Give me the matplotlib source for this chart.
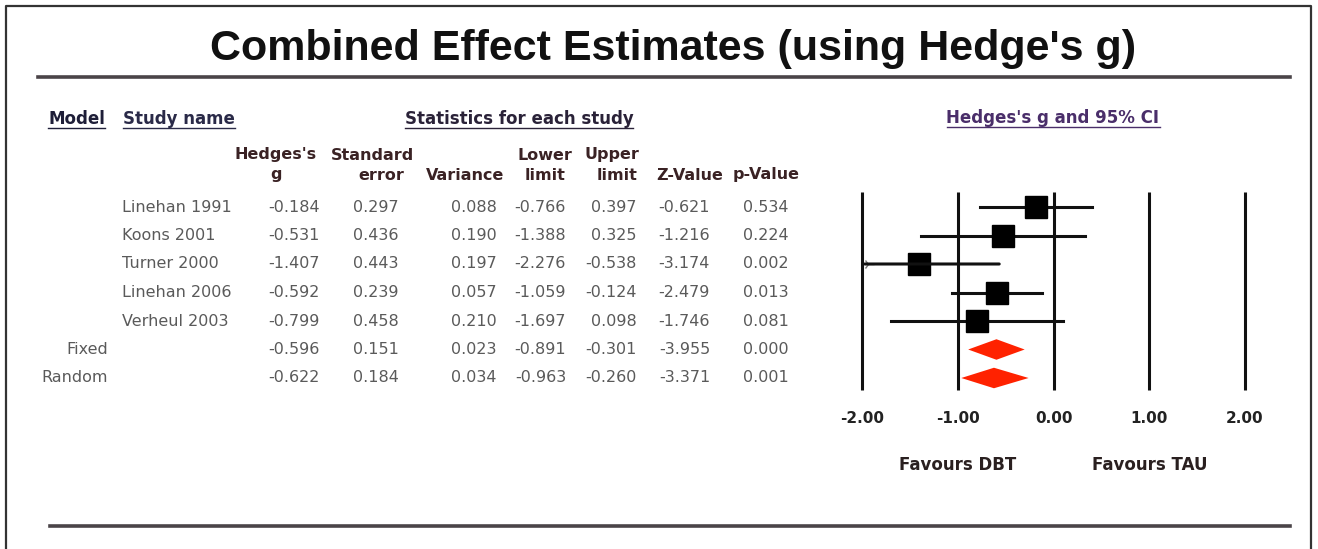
import matplotlib
matplotlib.use("Agg")
import matplotlib.pyplot as plt
from matplotlib.lines import Line2D

plt.rcParams['font.family'] = ['DejaVu Sans']

# data
studies = ["Linehan 1991", "Koons 2001", "Turner 2000", "Linehan 2006", "Verheul 2003"]
models = ["Fixed", "Random"]
hedges_g = [-0.184, -0.531, -1.407, -0.592, -0.799, -0.596, -0.622]
std_err = [0.297, 0.436, 0.443, 0.239, 0.458, 0.151, 0.184]
variance = [0.088, 0.190, 0.197, 0.057, 0.210, 0.023, 0.034]
lower = [-0.766, -1.388, -2.276, -1.059, -1.697, -0.891, -0.963]
upper = [0.397, 0.325, -0.538, -0.124, 0.098, -0.301, -0.260]
z_value = [-0.621, -1.216, -3.174, -2.479, -1.746, -3.955, -3.371]
p_value = [0.534, 0.224, 0.002, 0.013, 0.081, 0.000, 0.001]
x_ticks = [-2, -1, 0, 1, 2]
x_tick_labels = ["-2.00", "-1.00", "0.00", "1.00", "2.00"]

W, H = 1318, 549
fig = plt.figure(figsize=(W / 100, H / 100), dpi=100)

# background axes in pixel coords, for the table part
bg = fig.add_axes([0, 0, 1, 1])
bg.set_xlim(0, W)
bg.set_ylim(H, 0)
bg.axis("off")

# frame + rules
bg.plot([6, 6, 1311, 1311], [H, 6, 6, H], color="#333333", lw=1.6)
bg.plot([38, 1290], [77, 77], color="#4a4448", lw=2.6)
bg.plot([50, 1290], [526, 526], color="#4a4448", lw=2.6)

bg.text(673, 49, "Combined Effect Estimates (using Hedge's g)", ha="center", va="center",
        fontsize=31, fontweight="bold", color="#111111", family="Liberation Sans")

underlined = []
underlined.append(bg.text(48, 119, "Model", fontsize=12, fontweight="bold", color="#1e1e38", va="center"))
underlined.append(bg.text(123, 119, "Study name", fontsize=12, fontweight="bold", color="#2a2a48", va="center"))
underlined.append(bg.text(519, 119, "Statistics for each study", fontsize=12, fontweight="bold",
                          color="#2a2238", ha="center", va="center"))
underlined.append(bg.text(1053, 118, "Hedges's g and 95% CI", fontsize=12, fontweight="bold",
                          color="#4a2e6a", ha="center", va="center"))

head_color = "#3a2224"
head1 = ["Hedges's", "Standard", "", "Lower", "Upper", "", ""]
head2 = ["g", "error", "Variance", "limit", "limit", "Z-Value", "p-Value"]
head_x1 = [276, 372, 465, 545, 612, 690, 766]
head_x2 = [276, 381, 465, 545, 617, 690, 766]
for t1, t2, x1, x2 in zip(head1, head2, head_x1, head_x2):
    bg.text(x1, 155, t1, ha="center", va="center", fontsize=11.5, fontweight="bold", color=head_color)
    bg.text(x2, 175, t2, ha="center", va="center", fontsize=11.5, fontweight="bold", color=head_color)

row_y = [207 + 28.5 * i for i in range(7)]
col_right = [320, 399, 497, 566, 637, 710, 789]
txt_color = "#5a5a5a"
cols = [hedges_g, std_err, variance, lower, upper, z_value, p_value]
for i, y in enumerate(row_y):
    if i < len(studies):
        bg.text(122, y, studies[i], ha="left", va="center", fontsize=11.5, color=txt_color)
    else:
        bg.text(108, y, models[i - len(studies)], ha="right", va="center", fontsize=11.5, color=txt_color)
    for xr, col in zip(col_right, cols):
        bg.text(xr, y, f"{col[i]:.3f}", ha="right", va="center", fontsize=11.5, color=txt_color)

# forest plot axes
px_unit = 95.75
x0 = 862 - 0.2 * px_unit
x1 = 1245 + 0.2 * px_unit
ytop, ybot = 185, 400
ax = fig.add_axes([x0 / W, 1 - ybot / H, (x1 - x0) / W, (ybot - ytop) / H])
ax.set_xlim(-2.2, 2.2)
ax.set_ylim((ybot - 207) / 28.5, (ytop - 207) / 28.5)
for s in ax.spines.values():
    s.set_visible(False)
ax.set_yticks([])
ax.set_xticks(x_ticks)
ax.set_xticklabels(x_tick_labels, fontsize=11, fontweight="bold", color="#222222")
ax.tick_params(axis="x", length=0, pad=8)
ax.vlines(x_ticks, (192 - 207) / 28.5, (390 - 207) / 28.5, color="#111111", lw=2.2)

n = len(studies)
for i in range(n):
    lo = max(lower[i], -2)
    if lower[i] < -2:
        ax.annotate("", xy=(lo, i), xytext=(upper[i], i),
                    arrowprops=dict(arrowstyle="-", lw=2.2, color="#111111"))
        ax.plot(lo + 0.06, i, marker="4", markersize=8, color="#777777", mew=1)
    else:
        ax.plot([lo, upper[i]], [i, i], color="#111111", lw=2.2)
    ax.plot(hedges_g[i], i, marker="s", markersize=16, color="black")

for j in range(len(models)):
    r = n + j
    g = hedges_g[r]
    ax.fill([lower[r], g, upper[r], g], [r, r - 0.36, r, r + 0.36], color="#ff2200", lw=0)

ax.text(-1, 6.77 + 2.3, "Favours DBT", ha="center", va="center", fontsize=12, fontweight="bold",
        color="#2a2020", clip_on=False)
ax.text(1, 6.77 + 2.3, "Favours TAU", ha="center", va="center", fontsize=12, fontweight="bold",
        color="#2a2020", clip_on=False)

# underline headers
fig.canvas.draw()
inv = bg.transData.inverted()
for t in underlined:
    bb = t.get_window_extent()
    (xa, ya), (xb, yb) = inv.transform([(bb.x0, bb.y0), (bb.x1, bb.y1)])
    bg.add_line(Line2D([xa, xb], [ya, ya], color=t.get_color(), lw=1))

fig.savefig("out.png", dpi=100)
